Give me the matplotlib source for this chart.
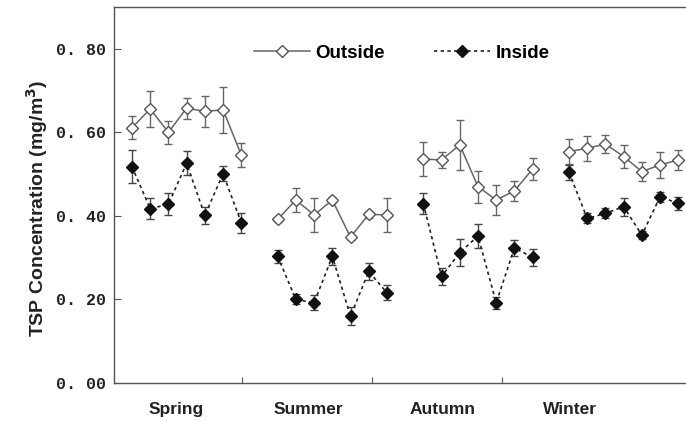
import numpy as np
import matplotlib
matplotlib.use("Agg")
import matplotlib.pyplot as plt
from matplotlib.lines import Line2D

seasons = ["Spring", "Summer", "Autumn", "Winter"]

# 7 sampling days per season
outside = [
    [0.611, 0.656, 0.600, 0.658, 0.650, 0.654, 0.546],
    [0.392, 0.438, 0.402, 0.438, 0.349, 0.404, 0.402],
    [0.536, 0.534, 0.570, 0.470, 0.438, 0.460, 0.512],
    [0.554, 0.562, 0.572, 0.542, 0.506, 0.522, 0.534],
]
outside_err = [
    [0.028, 0.043, 0.027, 0.025, 0.038, 0.055, 0.029],
    [0.006, 0.029, 0.041, 0.008, 0.006, 0.008, 0.041],
    [0.040, 0.020, 0.060, 0.038, 0.035, 0.024, 0.026],
    [0.029, 0.030, 0.022, 0.028, 0.022, 0.031, 0.024],
]
inside = [
    [0.518, 0.417, 0.428, 0.526, 0.401, 0.501, 0.384],
    [0.303, 0.200, 0.192, 0.303, 0.160, 0.267, 0.216],
    [0.429, 0.255, 0.312, 0.352, 0.192, 0.323, 0.301],
    [0.504, 0.394, 0.406, 0.422, 0.354, 0.446, 0.430],
]
inside_err = [
    [0.040, 0.025, 0.027, 0.029, 0.020, 0.018, 0.024],
    [0.016, 0.012, 0.018, 0.020, 0.022, 0.020, 0.018],
    [0.025, 0.020, 0.032, 0.029, 0.015, 0.020, 0.020],
    [0.018, 0.012, 0.012, 0.022, 0.010, 0.012, 0.016],
]
yticks = [0.0, 0.2, 0.4, 0.6, 0.8]

fig = plt.figure(figsize=(6.86, 4.21), dpi=100)
ax = fig.add_axes([114 / 686, 38 / 421, (692 - 114) / 686, 376 / 421])

gray = "#555555"
for i in range(4):
    x = np.arange(7) + 1 + 8 * i
    ax.errorbar(x, outside[i], yerr=outside_err[i], color="#666666", lw=1.1,
                marker="D", ms=6, mfc="white", mec=gray, mew=1.0,
                ecolor="#666666", elinewidth=1.0, capsize=3, capthick=1.0, zorder=3)
    ax.errorbar(x, inside[i], yerr=inside_err[i], color="#222222", lw=1.2,
                ls=(0, (2, 2)), marker="D", ms=6, mfc="#111111", mec="#111111",
                ecolor="#444444", elinewidth=1.0, capsize=3, capthick=1.0, zorder=3)

ax.set_xlim(1 + (114 - 132) / 18.21, 1 + (692 - 132) / 18.21)
ax.set_ylim(0, 0.9)

# season boundaries as ticks, names centred between them
ax.set_xticks([7.06, 14.2, 21.33])
ax.set_xticklabels([])
ax.set_xticks([3.45, 10.7, 18.05, 25.05], minor=True)
ax.set_xticklabels(seasons, minor=True, fontsize=12.5, fontweight="bold",
                   family="Liberation Sans", color="#222222")
ax.tick_params(axis="x", which="major", direction="in", length=4, color=gray)
ax.tick_params(axis="x", which="minor", length=0, pad=14)

ax.set_yticks(yticks)
ax.set_yticklabels([("%.2f" % v).replace(".", ". ") for v in yticks],
                   family="Liberation Mono", fontweight="bold", fontsize=12, color="#222222")
ax.tick_params(axis="y", direction="in", length=5, color=gray, pad=6)

for s in ["left", "bottom", "top"]:
    ax.spines[s].set_color(gray)
    ax.spines[s].set_linewidth(1.0)
ax.spines["right"].set_visible(False)

fig.text(37 / 686, 1 - 208 / 421, "TSP Concentration (mg/m$\\mathbf{^3}$)", rotation=90,
         ha="center", va="center", fontsize=14, fontweight="bold",
         family="Liberation Sans", color="#222222")

handles = [
    Line2D([], [], color="#666666", lw=1.1, marker="D", ms=6, mfc="white", mec=gray),
    Line2D([], [], color="#222222", lw=1.2, ls=(0, (2, 2)), marker="D", ms=6,
           mfc="#111111", mec="#111111"),
]
ax.legend(handles, ["Outside", "Inside"], loc="center left", ncol=2, frameon=False,
          bbox_to_anchor=((253 - 114) / 578 - 0.012, 1 - (53 - 7) / 376),
          prop={"family": "Liberation Sans", "weight": "bold", "size": 13.5},
          handlelength=3.0, handletextpad=0.3, columnspacing=2.6, borderaxespad=0)

fig.savefig("out.png", dpi=100)
